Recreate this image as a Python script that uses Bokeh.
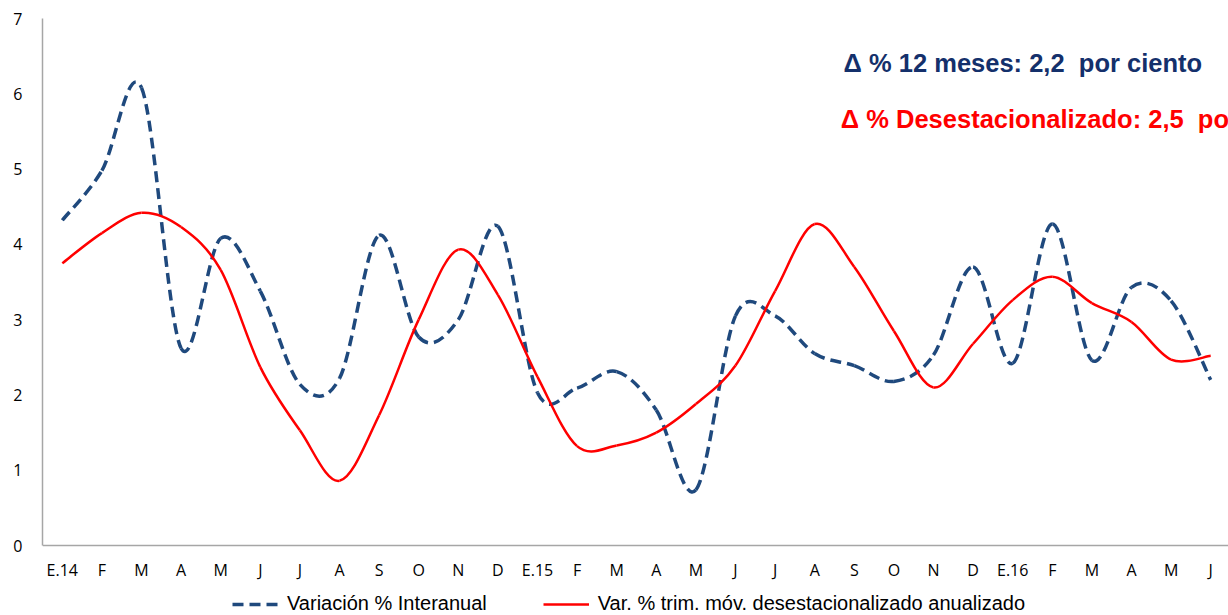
from bokeh.plotting import figure
from bokeh.models import Legend, LegendItem, Label, FixedTicker, Range1d, LinearAxis
from bokeh.embed import file_html
from bokeh.resources import INLINE

months = ["E.14", "F", "M", "A", "M", "J", "J", "A", "S", "O", "N", "D",
          "E.15", "F", "M", "A", "M", "J", "J", "A", "S", "O", "N", "D",
          "E.16", "F", "M", "A", "M", "J"]
interanual = [4.32, 4.98, 6.08, 2.62, 4.08, 3.38, 2.14, 2.22, 4.12, 2.77, 3.00, 4.24,
              2.03, 2.09, 2.31, 1.80, 0.74, 3.05, 3.05, 2.55, 2.39, 2.18, 2.53, 3.70,
              2.42, 4.27, 2.46, 3.43, 3.25, 2.20]
desest = [3.75, 4.15, 4.42, 4.23, 3.66, 2.37, 1.53, 0.86, 1.73, 3.00, 3.93, 3.33,
          2.24, 1.32, 1.33, 1.50, 1.88, 2.39, 3.38, 4.27, 3.70, 2.85, 2.10, 2.68,
          3.26, 3.57, 3.22, 2.97, 2.47, 2.52]
y_ticks = [0, 1, 2, 3, 4, 5, 6, 7]

BLUE = "#1F497D"
RED = "#FF0000"


def smooth_segments(ys):
    xs = list(range(len(ys)))
    n = len(ys)
    d = dict(x0=[], y0=[], x1=[], y1=[], cx0=[], cy0=[], cx1=[], cy1=[])
    for i in range(n - 1):
        a = i - 1 if i > 0 else i
        b = i + 2 if i + 2 < n else i + 1
        d["x0"].append(xs[i]); d["y0"].append(ys[i])
        d["x1"].append(xs[i + 1]); d["y1"].append(ys[i + 1])
        d["cx0"].append(xs[i] + (xs[i + 1] - xs[a]) / 6)
        d["cy0"].append(ys[i] + (ys[i + 1] - ys[a]) / 6)
        d["cx1"].append(xs[i + 1] - (xs[b] - xs[i]) / 6)
        d["cy1"].append(ys[i + 1] - (ys[b] - ys[i]) / 6)
    return d


# frame: 42..1228 x 18..615 ; 0 on y at pixel 545, 75.29 px per unit
p = figure(width=1228, height=615, output_backend="svg",
           toolbar_location=None, x_range=Range1d(-0.5, 29.45),
           y_range=Range1d(7 - 597 / 75.29, 7), x_axis_location=None,
           min_border_left=42, min_border_right=0,
           min_border_top=18, min_border_bottom=0)
p.outline_line_color = None
p.grid.visible = False
p.background_fill_color = "white"
p.border_fill_color = "white"

r1 = p.bezier(source=smooth_segments(interanual), x0="x0", y0="y0", x1="x1", y1="y1",
              cx0="cx0", cy0="cy0", cx1="cx1", cy1="cy1",
              line_color=BLUE, line_width=3.5, line_dash="11 6")
r2 = p.bezier(source=smooth_segments(desest), x0="x0", y0="y0", x1="x1", y1="y1",
              cx0="cx0", cy0="cy0", cx1="cx1", cy1="cy1",
              line_color=RED, line_width=2.5)

xaxis = LinearAxis(fixed_location=0)
p.add_layout(xaxis, "below")

for ax in (xaxis, p.yaxis[0]):
    ax.axis_line_color = "#A6A6A6"
    ax.axis_line_width = 1.5
    ax.major_tick_line_color = None
    ax.minor_tick_line_color = None
    ax.major_tick_out = 0
    ax.major_tick_in = 0
    ax.minor_tick_out = 0
    ax.minor_tick_in = 0
    ax.major_label_text_font = "Open Sans"
    ax.major_label_text_font_size = "16px"
    ax.major_label_text_color = "#000000"

xaxis.ticker = FixedTicker(ticks=list(range(len(months))))
xaxis.major_label_overrides = {i: m for i, m in enumerate(months)}
xaxis.major_label_standoff = 13
p.yaxis.ticker = FixedTicker(ticks=y_ticks)
p.yaxis.bounds = (0, 7)
p.yaxis.major_label_standoff = 20

legend = Legend(items=[LegendItem(label="Variación % Interanual", renderers=[r1]),
                       LegendItem(label="Var. % trim. móv. desestacionalizado anualizado", renderers=[r2])],
                orientation="horizontal", location=(190, 0),
                label_text_font="Liberation Sans", label_text_font_size="20px",
                label_text_color="#000000", glyph_width=46, glyph_height=16,
                label_height=16, label_standoff=9, spacing=56, padding=0, margin=0,
                border_line_color=None, background_fill_alpha=0)
p.add_layout(legend, "center")

p.add_layout(Label(x=19.73, y=6.415, text="Δ % 12 meses: 2,2 \u00a0por ciento",
                   text_font="Liberation Sans", text_font_style="bold",
                   text_font_size="25.5px", text_color="#14306B", text_baseline="middle"))
p.add_layout(Label(x=19.66, y=5.67, text="Δ % Desestacionalizado: 2,5 \u00a0por ciento",
                   text_font="Liberation Sans", text_font_style="bold",
                   text_font_size="25.5px", text_color=RED, text_baseline="middle"))

open("out.html", "w").write(file_html(p, INLINE))
